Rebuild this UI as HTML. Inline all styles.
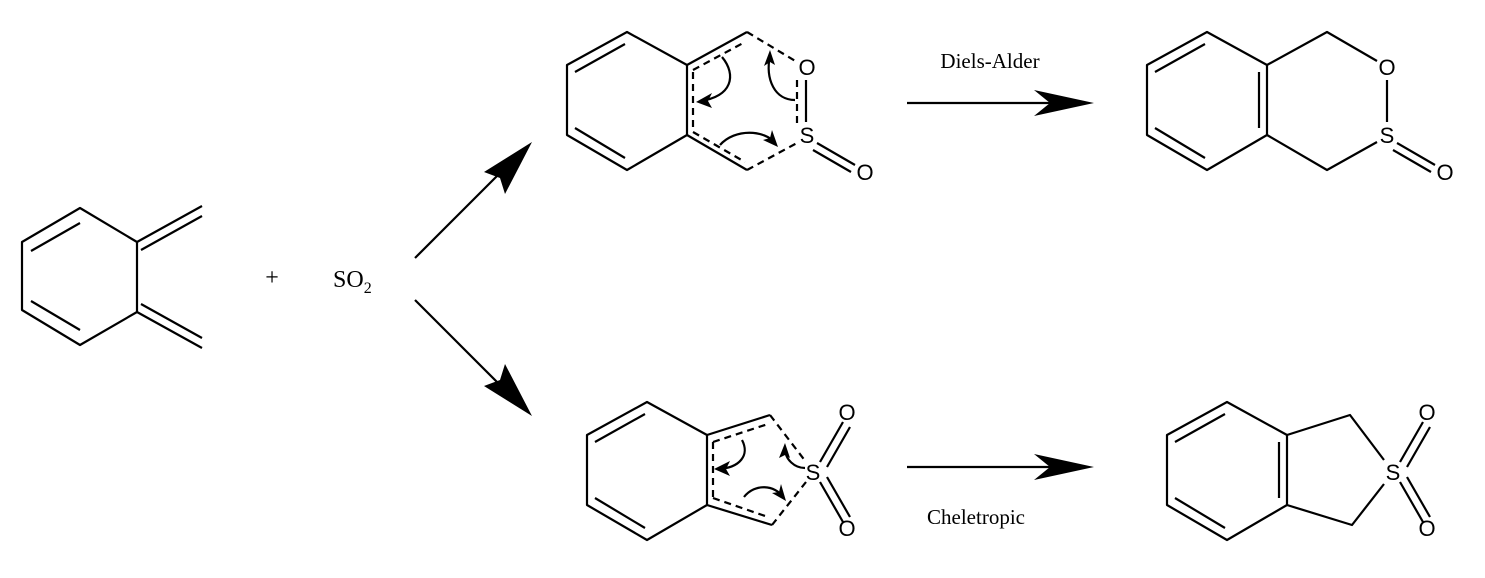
<!DOCTYPE html>
<html><head><meta charset="utf-8"><style>
html,body{margin:0;padding:0;background:#fff;}
svg{display:block;}
text{font-family:"Liberation Serif",serif;fill:#000;}
.a{font-family:"Liberation Sans",sans-serif;font-size:22px;}
</style></head><body>
<svg width="1485" height="578" viewBox="0 0 1485 578" xmlns="http://www.w3.org/2000/svg">
<g stroke="#000" stroke-width="2.2" fill="none" stroke-linejoin="round">
<!-- left diene -->
<path d="M80,208 L22,242 L22,310 L80,345 L137,312 L137,242 Z"/>
<path d="M31,251 L80,223 M31,301 L80,330"/>
<path d="M137,242 L202,206 M141,250 L202,216"/>
<path d="M137,312 L202,348 M141,304 L202,338"/>

<!-- arrows from SO2 -->
<path d="M415,258 L505,168"/>
<polygon points="532,142 484,172 500,178 505,194" fill="#000" stroke="none"/>
<path d="M415,300 L505,390"/>
<polygon points="532,416 484,386 500,380 505,364" fill="#000" stroke="none"/>

<!-- top middle TS -->
<path d="M627,32 L567,65 L567,135 L627,170 L687,135 L687,65 Z"/>
<path d="M575,72 L625,44 M575,128 L625,158"/>
<path d="M687,65 L747,32 M687,135 L747,170"/>
<g stroke-dasharray="7,5">
<path d="M693,70 L745,42 M693,72 L693,130 M693,132 L745,162"/>
<path d="M747,32 L797,62 M747,170 L797,143 M797,80 L797,128"/>
</g>
<path d="M806,80 L806,122"/>
<path d="M817,143 L855,165 M813,150 L851,172"/>
<path d="M722,57 C737,75 732,97 700,101" />
<polygon points="696,102 712,93 708,101 712,108" fill="#000" stroke="none"/>
<path d="M795,100 C775,100 765,80 770,55"/>
<polygon points="770,50 775,65 770,62 764,66" fill="#000" stroke="none"/>
<path d="M720,145 C735,128 765,130 775,143"/>
<polygon points="778,147 763,140 770,138 772,130" fill="#000" stroke="none"/>

<!-- bottom middle TS -->
<path d="M647,402 L587,435 L587,505 L647,540 L707,505 L707,435 Z"/>
<path d="M595,442 L645,414 M595,498 L645,528"/>
<path d="M707,435 L770,415 M707,505 L772,525"/>
<g stroke-dasharray="7,5">
<path d="M713,442 L768,424 M713,442 L713,500 M713,498 L768,517"/>
<path d="M770,415 L806,462 M772,525 L806,482"/>
</g>
<path d="M820,462 L843,422 M827,467 L850,427"/>
<path d="M820,482 L843,522 M827,477 L850,517"/>
<path d="M742,440 C750,455 740,468 718,469"/>
<polygon points="714,469 730,461 726,469 730,476" fill="#000" stroke="none"/>
<path d="M805,468 C795,468 785,460 785,448"/>
<polygon points="785,443 790,458 785,455 779,458" fill="#000" stroke="none"/>
<path d="M744,497 C755,483 775,485 783,497"/>
<polygon points="786,501 772,493 779,492 781,484" fill="#000" stroke="none"/>

<!-- reaction arrows -->
<path d="M907,103 L1060,103"/>
<polygon points="1094,103 1034,90 1050,103 1034,116" fill="#000" stroke="none"/>
<path d="M907,467 L1060,467"/>
<polygon points="1094,467 1034,454 1050,467 1034,480" fill="#000" stroke="none"/>

<!-- top right product -->
<path d="M1207,32 L1147,65 L1147,135 L1207,170 L1267,135 L1267,65 Z"/>
<path d="M1155,72 L1205,44 M1155,128 L1205,158 M1259,72 L1259,128"/>
<path d="M1267,65 L1327,32 L1377,61 M1267,135 L1327,170 L1377,142 M1387,80 L1387,122"/>
<path d="M1397,143 L1435,165 M1393,150 L1431,172"/>

<!-- bottom right product -->
<path d="M1227,402 L1167,435 L1167,505 L1227,540 L1287,505 L1287,435 Z"/>
<path d="M1175,442 L1225,414 M1175,498 L1225,528 M1279,442 L1279,498"/>
<path d="M1287,435 L1350,415 L1384,460 M1287,505 L1352,525 L1384,484"/>
<path d="M1400,462 L1423,422 M1407,467 L1430,427"/>
<path d="M1400,482 L1423,522 M1407,477 L1430,517"/>
</g>

<!-- atom labels -->
<g class="a" text-anchor="middle">
<text x="807" y="75" class="a">O</text>
<text x="807" y="143" class="a">S</text>
<text x="865" y="180" class="a">O</text>
<text x="813" y="480" class="a">S</text>
<text x="847" y="420" class="a">O</text>
<text x="847" y="536" class="a">O</text>
<text x="1387" y="75" class="a">O</text>
<text x="1387" y="143" class="a">S</text>
<text x="1445" y="180" class="a">O</text>
<text x="1393" y="480" class="a">S</text>
<text x="1427" y="420" class="a">O</text>
<text x="1427" y="536" class="a">O</text>
</g>

<text x="272" y="285" font-size="24" text-anchor="middle">+</text>
<text x="333" y="287" font-size="24">SO<tspan font-size="16" dy="6">2</tspan></text>
<text x="990" y="68" font-size="21" text-anchor="middle">Diels-Alder</text>
<text x="976" y="524" font-size="21" text-anchor="middle">Cheletropic</text>
</svg>
</body></html>
